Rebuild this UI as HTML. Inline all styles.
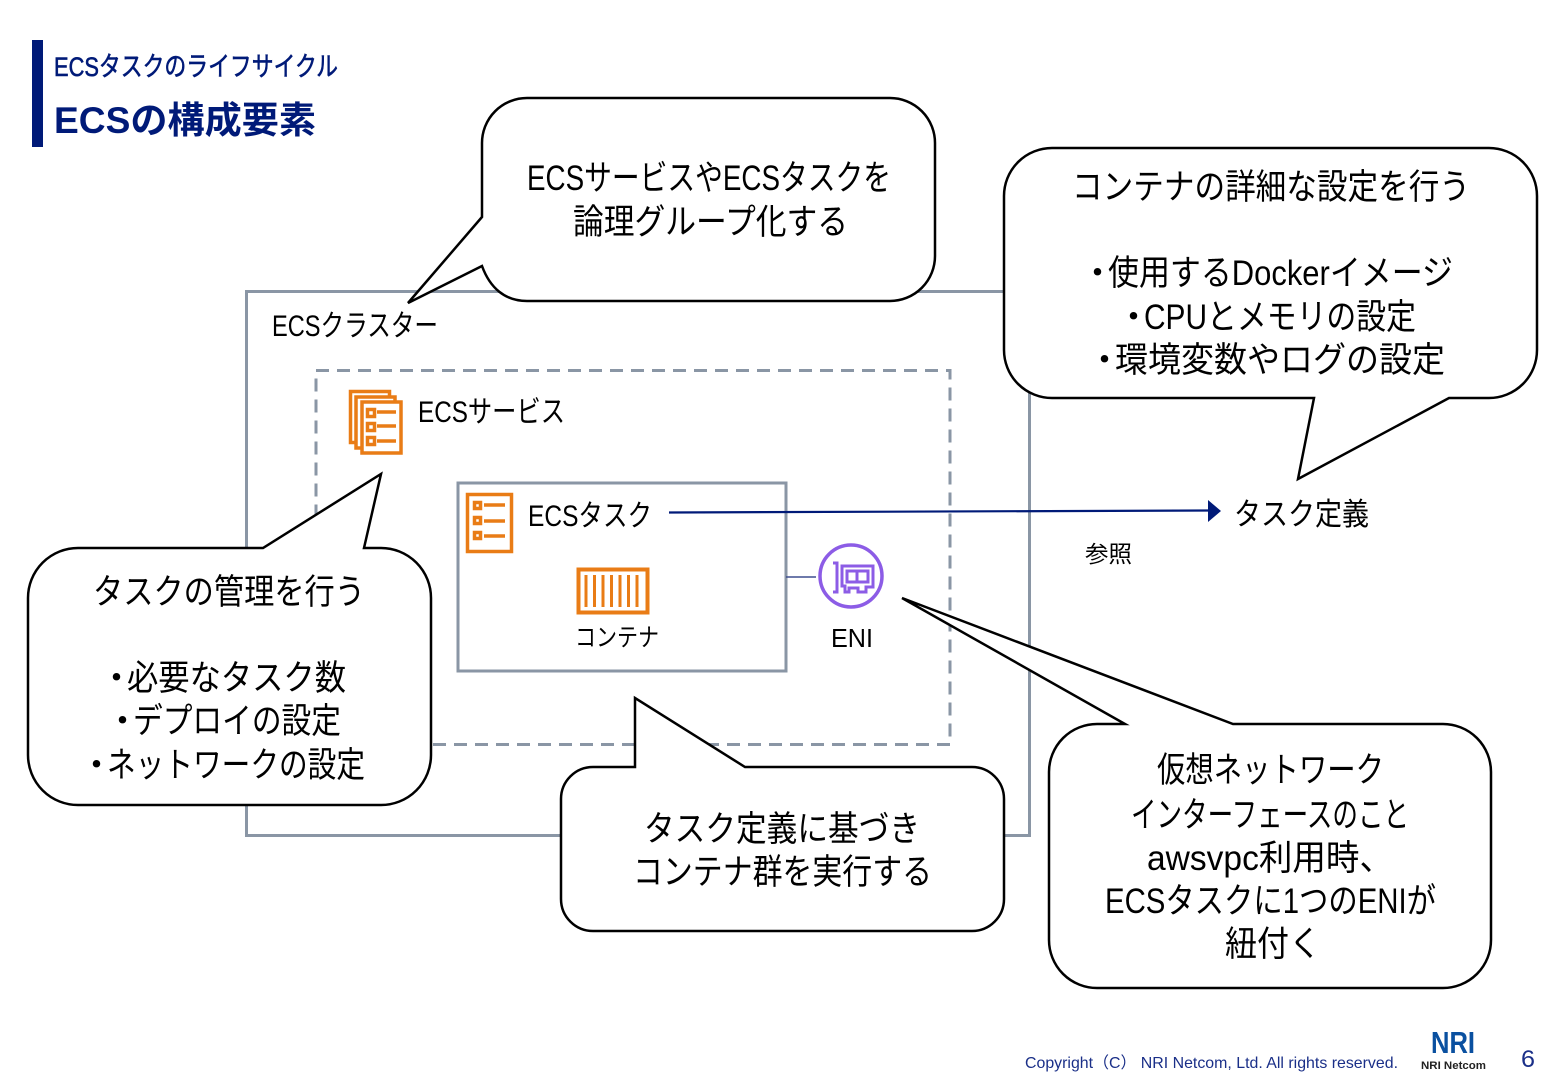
<!DOCTYPE html>
<html lang="ja">
<head>
<meta charset="utf-8">
<style>
html,body{margin:0;padding:0;background:#fff;width:1560px;height:1080px;overflow:hidden}
svg{display:block}
text{font-family:"Liberation Sans","Noto Sans CJK JP",sans-serif;fill:#000;font-weight:400}
.c{stroke:#000;stroke-width:2.5;fill:#fff;stroke-linejoin:miter}
.o{stroke:#e97c16;stroke-width:3.5;fill:none}
.of{stroke:#e97c16;stroke-width:3.5;fill:#fff}
.b{fill:#001a78}
</style>
</head>
<body>
<svg width="1560" height="1080" viewBox="0 0 1560 1080" xmlns="http://www.w3.org/2000/svg">
<rect x="32" y="40" width="11" height="107" fill="#001a78"/>
<text x="54" y="76" font-size="27" class="b" style="stroke:#001a78;stroke-width:0.6" textLength="284" lengthAdjust="spacingAndGlyphs">ECSタスクのライフサイクル</text>
<text x="54" y="133" font-size="37" class="b" style="font-weight:700" textLength="262" lengthAdjust="spacingAndGlyphs">ECSの構成要素</text>

<rect x="246.500" y="291.500" width="783" height="544" fill="none" stroke="#8a96a5" stroke-width="3"/>
<rect x="316" y="370.500" width="634" height="374" fill="none" stroke="#8a96a5" stroke-width="3" stroke-dasharray="13 8"/>
<rect x="458" y="483" width="328" height="188" fill="none" stroke="#8a96a5" stroke-width="3"/>
<line x1="786" y1="577" x2="816" y2="577" stroke="#3f4f8f" stroke-width="1.500"/>

<line x1="669" y1="512.500" x2="1209" y2="510.500" stroke="#001a78" stroke-width="2.200"/>
<polygon points="1208,500 1221,511 1208,522" fill="#001a78"/>

<text x="272" y="336" font-size="30" textLength="166" lengthAdjust="spacingAndGlyphs">ECSクラスター</text>
<text x="418" y="422" font-size="30" textLength="147" lengthAdjust="spacingAndGlyphs">ECSサービス</text>
<text x="528" y="526" font-size="30" textLength="124" lengthAdjust="spacingAndGlyphs">ECSタスク</text>
<text x="575" y="646" font-size="25" textLength="84" lengthAdjust="spacingAndGlyphs">コンテナ</text>
<text x="831" y="647" font-size="26" textLength="42" lengthAdjust="spacingAndGlyphs">ENI</text>
<text x="1234" y="525" font-size="31" textLength="135" lengthAdjust="spacingAndGlyphs">タスク定義</text>
<text x="1085" y="562" font-size="23" textLength="47" lengthAdjust="spacingAndGlyphs">参照</text>

<!-- service icon -->
<g>
<rect x="350.500" y="391.500" width="39" height="51" class="of"/>
<rect x="356" y="397" width="39" height="51" class="of"/>
<rect x="362" y="402" width="39" height="51" class="of"/>
<rect x="367.500" y="409.500" width="7" height="7" class="o"/>
<rect x="367.500" y="423.500" width="7" height="7" class="o"/>
<rect x="367.500" y="437.500" width="7" height="7" class="o"/>
<path d="M377 412H396M377 426H396M377 441H396" class="o"/>
</g>
<!-- task icon -->
<g>
<rect x="467.500" y="494.500" width="44" height="57" class="of"/>
<rect x="474.500" y="502.500" width="6" height="6" class="o"/>
<rect x="474.500" y="517.500" width="6" height="6" class="o"/>
<rect x="474.500" y="532.500" width="6" height="6" class="o"/>
<path d="M484 505H505M484 521H505M484 536H505" class="o"/>
</g>
<!-- container icon -->
<g>
<rect x="578.500" y="569.500" width="69" height="43" class="of" style="stroke-width:4"/>
<path d="M586 575V607M594.500 575V607M603 575V607M611.500 575V607M620 575V607M628.500 575V607M637 575V607" stroke="#e97c16" stroke-width="3" fill="none"/>
</g>
<!-- ENI icon -->
<g fill="none" stroke="#8c5ce6" stroke-width="3">
<circle cx="851" cy="576" r="31" stroke-width="3.500"/>
<path d="M833 563H837V592H833"/>
<path d="M842 566H873V587H866V592H858V588H849V592H845V586H842Z"/>
<rect x="847" y="571" width="21" height="11"/>
<path d="M857 571V582"/>
</g>

<!-- callouts -->
<path class="c" d="M527 98H890A45 45 0 0 1 935 143V256A45 45 0 0 1 890 301H527C505 301 490 288 482 266L408 303L482 217V143A45 45 0 0 1 527 98Z"/>
<text x="527" y="190" font-size="35" textLength="364" lengthAdjust="spacingAndGlyphs">ECSサービスやECSタスクを</text>
<text x="573" y="234" font-size="35" textLength="275" lengthAdjust="spacingAndGlyphs">論理グループ化する</text>

<path class="c" d="M1052 148H1489A48 48 0 0 1 1537 196V350A48 48 0 0 1 1489 398H1449L1298 479L1314 398H1052A48 48 0 0 1 1004 350V196A48 48 0 0 1 1052 148Z"/>
<text x="1072" y="199" font-size="35" textLength="398" lengthAdjust="spacingAndGlyphs">コンテナの詳細な設定を行う</text>
<text x="1080" y="285" font-size="35">・</text>
<text x="1108" y="285" font-size="35" textLength="345" lengthAdjust="spacingAndGlyphs">使用するDockerイメージ</text>
<text x="1116" y="329" font-size="35">・</text>
<text x="1144" y="329" font-size="35" textLength="272" lengthAdjust="spacingAndGlyphs">CPUとメモリの設定</text>
<text x="1087" y="372" font-size="35">・</text>
<text x="1115" y="372" font-size="35" textLength="330" lengthAdjust="spacingAndGlyphs">環境変数やログの設定</text>

<path class="c" d="M78 548H263L381 474L364 548H381A50 50 0 0 1 431 598V755A50 50 0 0 1 381 805H78A50 50 0 0 1 28 755V598A50 50 0 0 1 78 548Z"/>
<text x="93" y="604" font-size="35" textLength="272" lengthAdjust="spacingAndGlyphs">タスクの管理を行う</text>
<text x="99" y="690" font-size="35">・</text>
<text x="127" y="690" font-size="35" textLength="219" lengthAdjust="spacingAndGlyphs">必要なタスク数</text>
<text x="105" y="733" font-size="35">・</text>
<text x="133" y="733" font-size="35" textLength="208" lengthAdjust="spacingAndGlyphs">デプロイの設定</text>
<text x="79" y="777" font-size="35">・</text>
<text x="107" y="777" font-size="35" textLength="258" lengthAdjust="spacingAndGlyphs">ネットワークの設定</text>

<path class="c" d="M593 767H635V698L745 767H972A32 32 0 0 1 1004 799V899A32 32 0 0 1 972 931H593A32 32 0 0 1 561 899V799A32 32 0 0 1 593 767Z"/>
<text x="644" y="841" font-size="35" textLength="276" lengthAdjust="spacingAndGlyphs">タスク定義に基づき</text>
<text x="633" y="884" font-size="35" textLength="299" lengthAdjust="spacingAndGlyphs">コンテナ群を実行する</text>

<path class="c" d="M1097 724H1125L902 598L1233 724H1443A48 48 0 0 1 1491 772V940A48 48 0 0 1 1443 988H1097A48 48 0 0 1 1049 940V772A48 48 0 0 1 1097 724Z"/>
<text x="1157" y="782" font-size="35" textLength="227" lengthAdjust="spacingAndGlyphs">仮想ネットワーク</text>
<text x="1131" y="827" font-size="35" textLength="278" lengthAdjust="spacingAndGlyphs">インターフェースのこと</text>
<text x="1147" y="870" font-size="35" textLength="246" lengthAdjust="spacingAndGlyphs">awsvpc利用時、</text>
<text x="1105" y="913" font-size="35" textLength="331" lengthAdjust="spacingAndGlyphs">ECSタスクに1つのENIが</text>
<text x="1225" y="956" font-size="35" textLength="96" lengthAdjust="spacingAndGlyphs">紐付く</text>

<!-- footer -->
<text x="1025" y="1068" font-size="16" class="b" style="fill:#1a2f88" textLength="373" lengthAdjust="spacingAndGlyphs">Copyright（C） NRI Netcom, Ltd. All rights reserved.</text>
<text x="1431" y="1053" font-size="31" style="fill:#0a50a0;font-weight:700" textLength="44" lengthAdjust="spacingAndGlyphs">NRI</text>
<text x="1421" y="1069" font-size="11" style="fill:#222;font-weight:700" textLength="65" lengthAdjust="spacingAndGlyphs">NRI Netcom</text>
<text x="1521" y="1067" font-size="24" style="fill:#1a2f88" textLength="14" lengthAdjust="spacingAndGlyphs">6</text>
</svg>
</body>
</html>
